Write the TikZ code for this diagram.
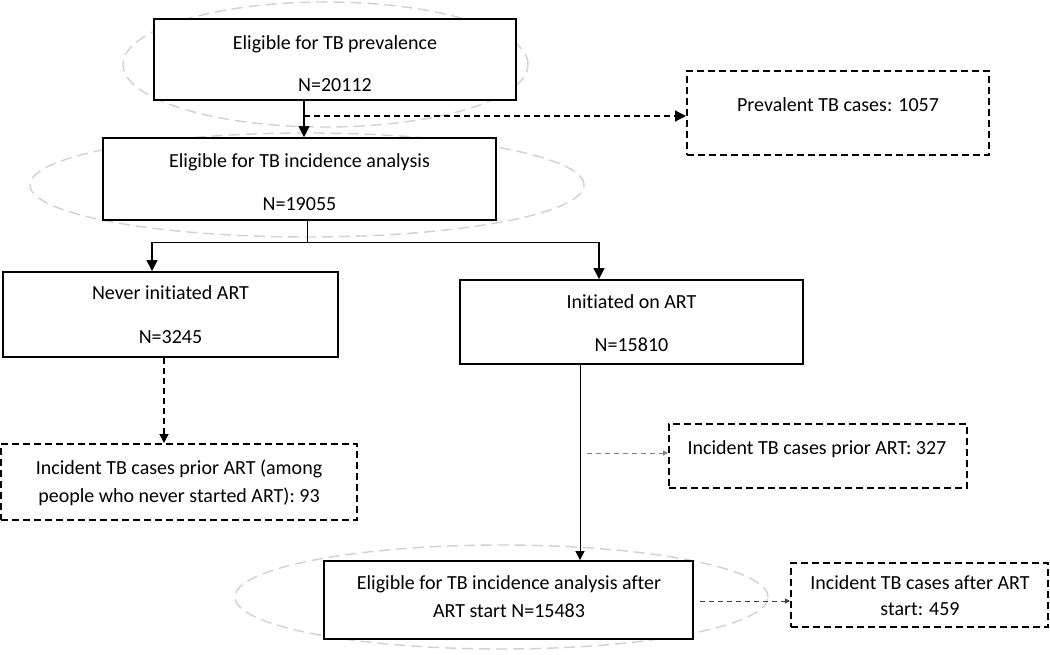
\documentclass[tikz,border=0pt]{standalone}
\usepackage{fontspec}
\setmainfont{Carlito}[Ligatures=NoCommon]
\usetikzlibrary{arrows.meta,calc}
\begin{document}
\begin{tikzpicture}[x=1pt,y=-1pt,
  box/.style={draw=black, line width=1.8pt, fill=white, inner sep=0pt, rectangle},
  dbox/.style={draw=black, line width=2pt, dash pattern=on 7pt off 4pt, fill=white, inner sep=0pt, rectangle},
  ell/.style={draw=black!18, line width=1.4pt, dash pattern=on 11pt off 6pt},
  txt/.style={font=\fontsize{20}{24}\selectfont, align=center, inner sep=0pt},
  arr/.style={line width=1.3pt, -{Triangle[length=11pt,width=11pt]}},
  sarr/.style={line width=1pt, -{Triangle[length=9pt,width=9pt]}},
  darr/.style={line width=1.5pt, dash pattern=on 6pt off 4pt, -{Triangle[length=11pt,width=11pt]}},
  cfarr/.style={line width=1.3pt, dash pattern=on 6pt off 4pt, -{Triangle[length=9pt,width=9pt]}},
  garr/.style={draw=black!50, line width=1pt, dash pattern=on 5pt off 4pt, -{Triangle[length=5pt,width=5pt]}},
  harr/.style={draw=black!75, line width=1pt, dash pattern=on 5pt off 4pt, -{Triangle[length=5pt,width=5pt]}},
  split/.style={line width=0.9pt}
]
\useasboundingbox (0,0) rectangle (1050,655);

% grey dashed ellipses (background)
\draw[ell] (325.5,64.5) ellipse [x radius=202.5pt, y radius=62.5pt];
\draw[ell] (307,185) ellipse [x radius=277pt, y radius=52pt];
\draw[ell] (501.5,597) ellipse [x radius=266.5pt, y radius=52pt];

% boxes
\node[box, minimum width=362pt, minimum height=81pt] (A) at (335,59.5) {};
\node[dbox, minimum width=302pt, minimum height=84pt] (P) at (838,113) {};
\node[box, minimum width=393pt, minimum height=82pt] (B) at (299.5,179) {};
\node[box, minimum width=335pt, minimum height=85pt] (C) at (170.5,314.5) {};
\node[box, minimum width=343pt, minimum height=84pt] (D) at (631.5,322) {};
\node[dbox, minimum width=356pt, minimum height=76pt] (F) at (179,482) {};
\node[dbox, minimum width=298pt, minimum height=64pt] (G) at (818,456) {};
\node[box, minimum width=369pt, minimum height=78pt] (E) at (508.5,600) {};
\node[dbox, minimum width=257pt, minimum height=64pt] (H) at (919.5,595) {};

% texts
\node[txt] (At) at (335,64) {Eligible for TB prevalence\\[18pt]N=20112};
\node[txt] (Pt) at (838,105) {Prevalent TB cases: 1057};
\node[txt] (Bt) at (299.5,182.5) {Eligible for TB incidence analysis\\[19pt]N=19055};
\node[txt] (Ct) at (170.5,315) {Never initiated ART\\[20pt]N=3245};
\node[txt] (Dt) at (631.5,323.5) {Initiated on ART\\[19pt]N=15810};
\node[txt] (Ft) at (179,483) {Incident TB cases prior ART (among\\[4pt]people who never started ART): 93};
\node[txt] (Gt) at (817,449) {Incident TB cases prior ART: 327};
\node[txt] (Et) at (509,597) {Eligible for TB incidence analysis after\\[4pt]ART start N=15483};
\node[txt] (Ht) at (920,596) {Incident TB cases after ART\\[2pt]start: 459};

% connectors
\coordinate (ab) at (304,116);
\draw[arr] (A.south -| ab) -- (B.north -| ab);
\draw[darr] (ab) -- (ab -| P.west);

\coordinate (s) at (307,242);
\coordinate (sl) at (152,242);
\coordinate (sr) at (599,242);
\draw[split] (B.south -| s) -- (s);
\draw[split] (sl) -- (sr);
\draw[arr] (sl) -- (C.north -| sl);
\draw[arr] (sr) -- (D.north -| sr);

\coordinate (cf) at (164,400);
\draw[cfarr] (C.south -| cf) -- (F.north -| cf);

\coordinate (de) at (580,450);
\draw[sarr] (D.south -| de) -- (E.north -| de);

\coordinate (g0) at (587,453);
\draw[garr] (g0) -- (g0 -| G.west);

\coordinate (h0) at (700,601);
\draw[harr] (h0) -- (h0 -| H.west);
\end{tikzpicture}
\end{document}
